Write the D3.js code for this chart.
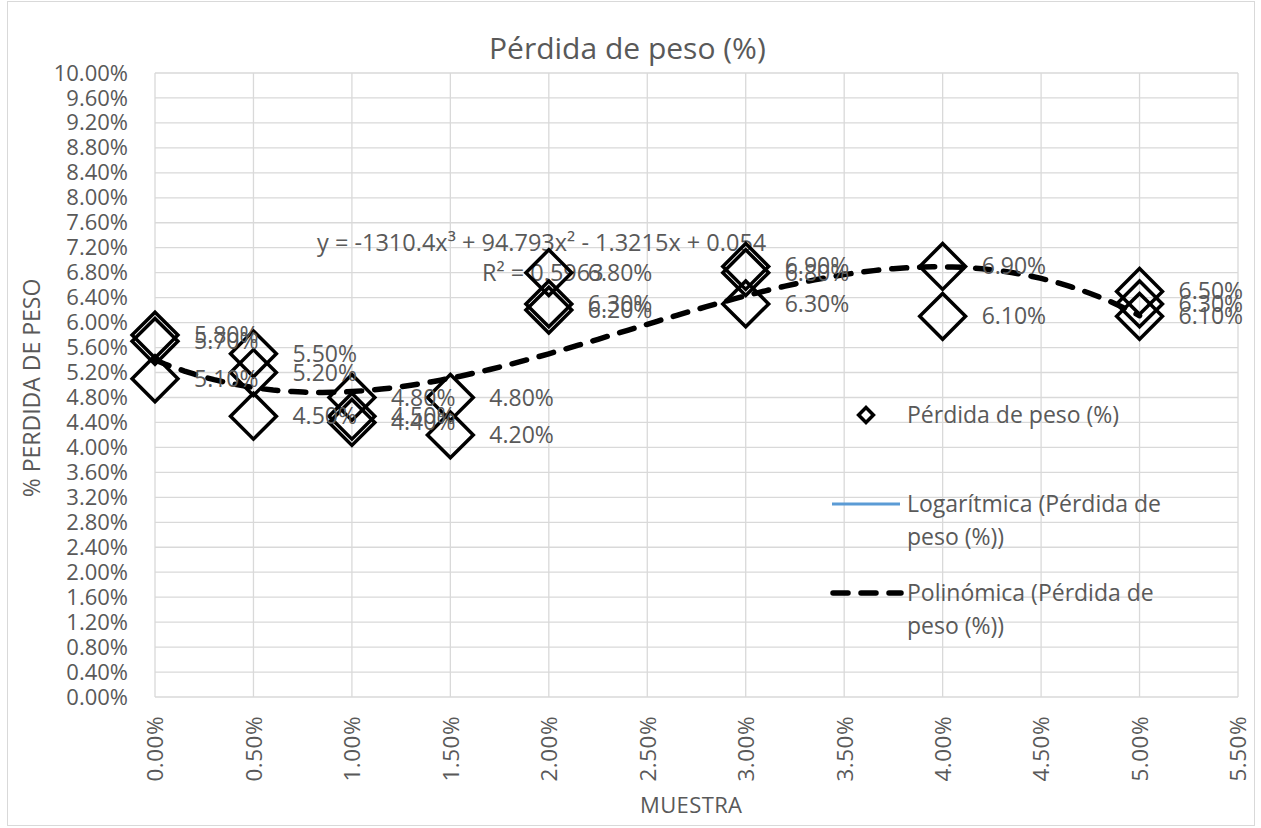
<!DOCTYPE html>
<html>
<head>
<meta charset="utf-8">
<script src="https://cdn.jsdelivr.net/npm/d3@7"></script>
<style>
  html, body { margin: 0; padding: 0; background: #fff; }
  text { font-family: "Open Sans", "Liberation Sans", sans-serif; fill: #595959; }
</style>
</head>
<body>
<div id="chart"></div>
<script>
  'use strict';

  // data
  var muestra = [0, 0, 0, 0.005, 0.005, 0.005, 0.01, 0.01, 0.01, 0.015, 0.015,
    0.02, 0.02, 0.02, 0.03, 0.03, 0.03, 0.04, 0.04, 0.05, 0.05, 0.05];
  var perdida = [0.058, 0.057, 0.051, 0.055, 0.052, 0.045, 0.048, 0.045, 0.044, 0.048, 0.042,
    0.068, 0.063, 0.062, 0.069, 0.068, 0.063, 0.069, 0.061, 0.065, 0.063, 0.061];
  // polynomial trendline shown in the chart: c3, c2, c1, c0
  var polyCoef = [-1310.4, 94.793, -1.3215, 0.054];
  var eqLabel = 'y = -1310.4x³ + 94.793x² - 1.3215x + 0.054';
  var r2Label = 'R² = 0.5963';
  var xTicks = d3.range(0, 12).map(function (i) { return i * 0.005; });
  var yTicks = d3.range(0, 26).map(function (i) { return i * 0.004; });
  var legendItems = [
    ['Pérdida de peso (%)'],
    ['Logarítmica (Pérdida de', 'peso (%))'],
    ['Polinómica (Pérdida de', 'peso (%))']
  ];

  var width = 1261,
    height = 828;

  var x = d3.scaleLinear().domain([0, 0.055]).range([155, 1238]);
  var y = d3.scaleLinear().domain([0, 0.10]).range([697, 73]);
  var pct = d3.format('.2%');

  var svg = d3.select('#chart').append('svg')
    .attr('width', width)
    .attr('height', height);

  svg.append('rect')
    .attr('x', 7.5).attr('y', 1.5)
    .attr('width', 1247).attr('height', 824)
    .attr('fill', '#fff')
    .attr('stroke', '#d9d9d9');

  // grid
  var grid = svg.append('g');
  grid.selectAll('line.h')
    .data(yTicks)
    .enter().append('line')
    .attr('class', 'h')
    .attr('x1', x(0)).attr('x2', x(0.055))
    .attr('y1', function (d) { return y(d); })
    .attr('y2', function (d) { return y(d); })
    .attr('stroke', '#d9d9d9').attr('stroke-width', 1.3);
  grid.selectAll('line.v')
    .data(xTicks)
    .enter().append('line')
    .attr('class', 'v')
    .attr('y1', y(0)).attr('y2', y(0.1))
    .attr('x1', function (d) { return x(d); })
    .attr('x2', function (d) { return x(d); })
    .attr('stroke', '#d9d9d9').attr('stroke-width', 1.3);

  // axis labels
  var yAxis = d3.axisLeft(y).tickValues(yTicks).tickFormat(pct).tickSize(0).tickPadding(27);
  var gy = svg.append('g').attr('transform', 'translate(' + x(0) + ',0)').call(yAxis);
  gy.select('.domain').remove();
  gy.selectAll('text').style('font-size', '22px').attr('fill', '#595959');

  var xAxis = d3.axisBottom(x).tickValues(xTicks).tickFormat(pct).tickSize(0);
  var gx = svg.append('g').attr('transform', 'translate(0,' + y(0) + ')').call(xAxis);
  gx.select('.domain').remove();
  gx.selectAll('text')
    .style('font-size', '22.5px')
    .style('letter-spacing', '0.5px')
    .attr('fill', '#595959')
    .attr('text-anchor', 'end')
    .attr('transform', 'rotate(-90)')
    .attr('x', -19)
    .attr('y', 0)
    .attr('dy', '0.35em');

  svg.append('text')
    .attr('x', 489).attr('y', 59)
    .style('font-size', '30px')
    .text('Pérdida de peso (%)');

  svg.append('text')
    .attr('transform', 'translate(40,388) rotate(-90)')
    .attr('text-anchor', 'middle')
    .style('font-size', '23px')
    .text('% PERDIDA DE PESO');

  svg.append('text')
    .attr('x', 691).attr('y', 813)
    .attr('text-anchor', 'middle')
    .style('font-size', '22px')
    .attr('textLength', 102)
    .text('MUESTRA');

  // trendline equation
  svg.append('text')
    .attr('x', 317).attr('y', 251)
    .style('font-size', '23.5px')
    .text(eqLabel);
  svg.append('text')
    .attr('x', 482).attr('y', 281)
    .style('font-size', '23.5px')
    .text(r2Label);

  // markers
  var diamond = d3.symbol().type(d3.symbolSquare).size(1050);
  svg.append('g').selectAll('path')
    .data(muestra)
    .enter().append('path')
    .attr('d', diamond)
    .attr('transform', function (d, i) {
      return 'translate(' + x(d) + ',' + y(perdida[i]) + ') rotate(45)';
    })
    .attr('fill', 'none')
    .attr('stroke', '#000')
    .attr('stroke-width', 3.5);

  // polynomial trendline
  function poly(v) {
    return polyCoef.reduce(function (acc, c) { return acc * v + c; }, 0);
  }
  var xs = d3.range(0, 101).map(function (i) { return x.invert(x(0) + (x(0.05) - x(0)) * i / 100); });
  svg.append('path')
    .datum(xs)
    .attr('d', d3.line()
      .x(function (d) { return x(d); })
      .y(function (d) { return y(poly(d)); }))
    .attr('fill', 'none')
    .attr('stroke', '#000')
    .attr('stroke-width', 5.5)
    .attr('stroke-linecap', 'round')
    .attr('stroke-dasharray', '15,13');

  // data labels
  svg.append('g').selectAll('text')
    .data(muestra)
    .enter().append('text')
    .attr('x', function (d) { return x(d) + 39; })
    .attr('y', function (d, i) { return y(perdida[i]); })
    .attr('dy', '0.35em')
    .style('font-size', '23px')
    .text(function (d, i) { return pct(perdida[i]); });

  // legend
  var legend = svg.append('g');
  var legY = [415, 504, 593];
  legend.append('path')
    .attr('d', d3.symbol().type(d3.symbolSquare).size(110))
    .attr('transform', 'translate(866,' + legY[0] + ') rotate(45)')
    .attr('fill', 'none').attr('stroke', '#000').attr('stroke-width', 3.5);
  legend.append('line')
    .attr('x1', 832).attr('x2', 900)
    .attr('y1', legY[1]).attr('y2', legY[1])
    .attr('stroke', '#5b9bd5').attr('stroke-width', 3);
  legend.append('line')
    .attr('x1', 833).attr('x2', 901)
    .attr('y1', legY[2]).attr('y2', legY[2])
    .attr('stroke', '#000').attr('stroke-width', 5.5)
    .attr('stroke-linecap', 'round')
    .attr('stroke-dasharray', '15,13');
  legendItems.forEach(function (lines, i) {
    lines.forEach(function (t, j) {
      legend.append('text')
        .attr('x', 907).attr('y', legY[i] + j * 33)
        .attr('dy', '0.35em')
        .style('font-size', '23px')
        .text(t);
    });
  });
</script>
</body>
</html>
